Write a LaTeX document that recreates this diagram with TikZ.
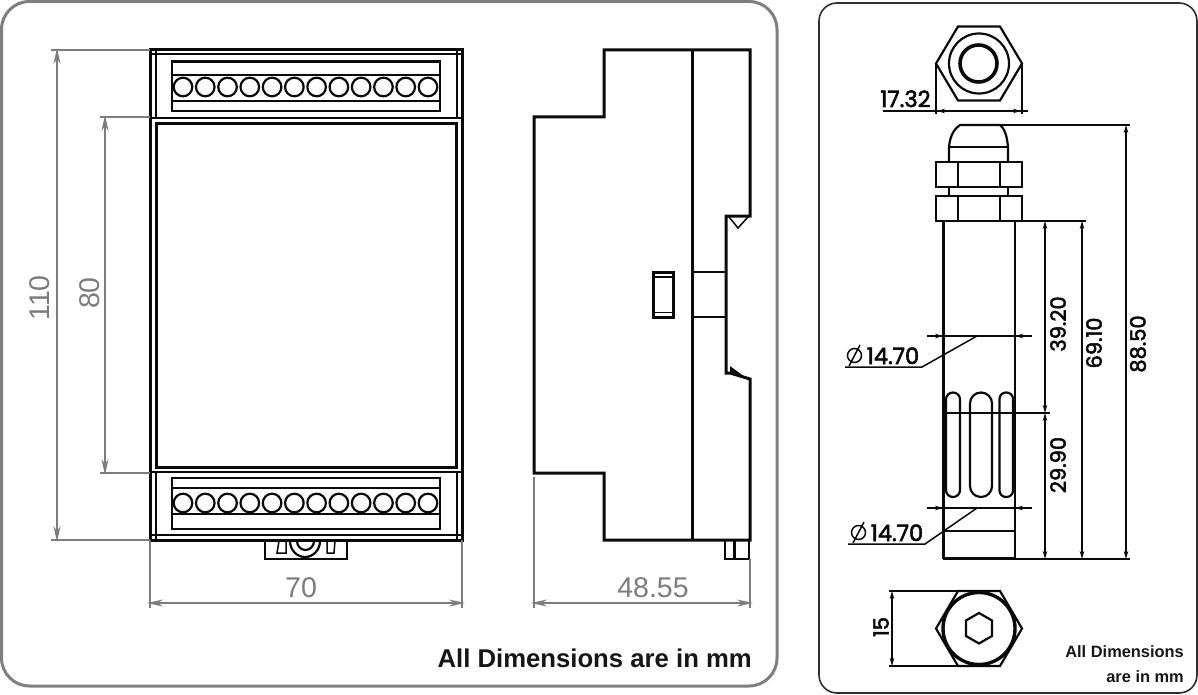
\documentclass[tikz,border=0pt]{standalone}
\usepackage{fontspec}
\setmainfont{Liberation Sans}
\newfontfamily\dimfont[RawFeature={embolden=2.6}]{Poppins}
\usetikzlibrary{arrows.meta}
\definecolor{dimgray}{HTML}{7C7C7C}
\definecolor{framegray}{HTML}{7F7F7F}
\definecolor{inkblack}{HTML}{0A0A0A}
\tikzset{
  panelL/.style={draw=framegray,line width=3pt,rounded corners=28pt},
  panelR/.style={draw=inkblack!85,line width=1.6pt,rounded corners=18pt},
  heavy/.style={draw=inkblack,line width=3pt,line join=miter},
  medium/.style={draw=inkblack,line width=2.2pt,line join=miter},
  fine/.style={draw=inkblack,line width=1.5pt},
  extG/.style={draw=dimgray,line width=1.7pt},
  dimG/.style={draw=dimgray,line width=1.7pt,{Stealth[length=16pt,width=7pt]}-{Stealth[length=16pt,width=7pt]}},
  dimK/.style={draw=inkblack,line width=1.5pt,{Stealth[length=8pt,width=4.5pt]}-{Stealth[length=8pt,width=4.5pt]}},
  labelG/.style={text=dimgray,font=\fontsize{28.5}{28.5}\selectfont,inner sep=0pt},
  labelK/.style={text=inkblack,font=\dimfont\fontsize{21}{21}\selectfont,inner sep=0pt},
  labelKw/.style={text=inkblack,font=\dimfont\fontsize{22.5}{22.5}\selectfont,inner sep=0pt},
  noteBig/.style={text=inkblack!95,font=\bfseries\fontsize{25.7}{25.7}\selectfont,inner sep=0pt},
  noteSmall/.style={text=inkblack!95,font=\bfseries\fontsize{16.4}{16.4}\selectfont,inner sep=0pt}
}
\begin{document}
\begin{tikzpicture}[x=1pt,y=-1pt]
\useasboundingbox (0,0) rectangle (1198,695);
\fill[white] (0,0) rectangle (1198,695);
% panels
\draw[panelL] (1.5,1.5) rectangle (777,686);
\draw[panelR] (819,3) rectangle (1197,693);

% --- front view ---
\draw[heavy] (150,50) rectangle (462,540);
\draw[medium] (150,54) -- (462,54);
\draw[medium] (150,118) -- (462,118);
\draw[medium] (150,472) -- (462,472);
\draw[medium] (150,535) -- (462,535);
\draw[medium] (156,50) -- (156,118);
\draw[medium] (457,50) -- (457,118);
\draw[medium] (156,472) -- (156,540);
\draw[medium] (457,472) -- (457,540);
\draw[heavy] (156,124) rectangle (456.5,467);
% terminal blocks
\draw[medium] (172,61.5) rectangle (440,111);
\draw[medium] (172,75) -- (440,75);
\draw[medium] (172,101) -- (440,101);
\draw[medium] (172,478) rectangle (440,529);
\draw[medium] (172,488) -- (440,488);
\draw[medium] (172,514) -- (440,514);
\foreach \i in {0,...,11}{
  \draw[medium] ({183+\i*22.27},87) circle (9.3pt);
  \draw[medium] ({183+\i*22.27},503) circle (9.3pt);
}
% clip
\draw[medium] (265,541) -- (265,559) -- (347,559) -- (347,541);
\draw[medium] (290,541) arc[start angle=180,end angle=0,x radius=15,y radius=16];
\draw[medium] (297,541) arc[start angle=180,end angle=0,x radius=8.5,y radius=9];
\draw[fine] (279,541) -- (277,553) -- (286,553) -- (286,541);
\draw[fine] (327,541) -- (327,553) -- (334,553) -- (335,541);

% --- side view ---
\draw[heavy] (534,117) -- (604,117) -- (604,50) -- (750,50) -- (750,216) -- (726,216) -- (726,373) -- (730,373) -- (750,379) -- (750,540) -- (604,540) -- (604,473) -- (534,473) -- cycle;
\draw[heavy] (692,50) -- (692,540);
\draw[medium] (692,272) -- (726,272);
\draw[medium] (692,317) -- (726,317);
\draw[heavy] (653,272.5) rectangle (673.5,317);
\draw[fine] (653,277) -- (673.5,277);
\draw[fine] (653,312.5) -- (673.5,312.5);
\draw[fine] (729,217) -- (738,228) -- (748,217);
\fill[inkblack] (730,366) -- (730,373) -- (745,377) -- cycle;
\draw[medium] (725,541) -- (725,559) -- (749,559) -- (749,541);
\draw[medium] (734.5,541) -- (734.5,559);

% --- grey dimensions ---
\draw[extG] (51,50) -- (150,50);
\draw[extG] (51,540) -- (150,540);
\draw[dimG] (57,48) -- (57,542);
\node[labelG,rotate=90] (d110) at (40,298) {110};
\draw[extG] (100,117) -- (150,117);
\draw[extG] (100,473) -- (150,473);
\draw[dimG] (105,115) -- (105,475);
\node[labelG,rotate=90] (d80) at (90,293) {80};
\draw[extG] (150,540) -- (150,608);
\draw[extG] (462,540) -- (462,608);
\draw[dimG] (147,603) -- (465,603);
\node[labelG] (d70) at (301,588) {70};
\draw[extG] (534,477) -- (534,608);
\draw[extG] (750,559) -- (750,608);
\draw[dimG] (531,603) -- (753,603);
\node[labelG] (d4855) at (653,588) {48.55};
\node[noteBig,anchor=east] (noteL) at (752,658) {All Dimensions are in mm};

% --- gland top view ---
\draw[medium] (936,63.5) -- (958,26.5) -- (1000,26.5) -- (1022,63.5) -- (1000,100.5) -- (958,100.5) -- cycle;
\draw[medium] (979,63.5) circle (30pt);
\draw[draw=inkblack,line width=3.6pt] (978.5,63.5) circle (18.5pt);
\draw[fine] (936,63.5) -- (936,114);
\draw[fine] (1022,63.5) -- (1022,114);
\draw[fine] (883,111) -- (1028,111);
\draw[dimK,{Stealth[length=8pt,width=4.5pt]}-] (937,111) -- (946,111);
\draw[dimK,-{Stealth[length=8pt,width=4.5pt]}] (1012,111) -- (1021,111);
\node[labelKw,anchor=base west] (d1732) at (880,107) {17.32};

% --- gland + tube ---
\draw[medium] (949,162) -- (949,147) .. controls (950,135) and (955,128) .. (960,125) -- (1000,125) .. controls (1004,128) and (1007,135) .. (1008,147) -- (1008,162);
\draw[medium] (949,147) -- (1008,147);
\draw[medium] (936,162) rectangle (1022,187);
\draw[medium] (958,162) -- (958,187);
\draw[medium] (1000,162) -- (1000,187);
\draw[medium] (949,187) -- (949,196);
\draw[medium] (1008,187) -- (1008,196);
\draw[medium] (936,196) rectangle (1022,221);
\draw[medium] (958,196) -- (958,221);
\draw[medium] (1000,196) -- (1000,221);
\draw[medium] (943.5,221) -- (943.5,558) -- (1015,558) -- (1015,221);
\draw[heavy] (943,558) -- (1015.5,558);
\draw[medium] (943.5,531) -- (1015,531);
% slots
\draw[medium,rounded corners=6.9pt] (946,392.5) rectangle (960,497);
\draw[medium,rounded corners=10.9pt] (970,392.5) rectangle (992,497);
\draw[medium,rounded corners=6.4pt] (999.5,392.5) rectangle (1013,497);
\draw[draw=inkblack,line width=3pt] (944.5,413) -- (944.5,470);
\draw[draw=inkblack,line width=3pt] (1014.5,413) -- (1014.5,470);

% --- black dimensions ---
\draw[fine] (1000,125) -- (1130,125);
\draw[fine] (1022,221) -- (1086,221);
\draw[fine] (1015,559) -- (1130,559);
\draw[fine] (943,413) -- (1050,413);
\draw[dimK] (1045,221) -- (1045,413);
\draw[dimK] (1045,413) -- (1045,559);
\draw[dimK] (1082,221) -- (1082,559);
\draw[dimK] (1126,125) -- (1126,559);
\node[labelK,rotate=90] (d3920) at (1058,324) {39.20};
\node[labelK,rotate=90] (d2990) at (1058,465) {29.90};
\node[labelK,rotate=90] (d6910) at (1094,343) {69.10};
\node[labelK,rotate=90] (d8850) at (1138,344) {88.50};

\draw[fine] (927,336) -- (1032,336);
\draw[dimK,{Stealth[length=8pt,width=4.5pt]}-] (943,336) -- (934,336);
\draw[dimK,{Stealth[length=8pt,width=4.5pt]}-] (1015,336) -- (1024,336);
\draw[fine] (977,336) -- (922,367) -- (845,367);
\draw[fine] (927,508) -- (1032,508);
\draw[dimK,{Stealth[length=8pt,width=4.5pt]}-] (943,508) -- (934,508);
\draw[dimK,{Stealth[length=8pt,width=4.5pt]}-] (1015,508) -- (1024,508);
\draw[fine] (977,508) -- (925,544) -- (848,544);
% phi labels
\draw[fine] (854.5,355.5) circle (7pt);
\draw[fine] (849,366) -- (860,345);
\node[labelKw,anchor=base west] (phiA) at (866.5,364) {14.70};
\draw[fine] (858.5,532.5) circle (7pt);
\draw[fine] (853,543) -- (864,522);
\node[labelKw,anchor=base west] (phiB) at (870.5,541) {14.70};

% --- gland bottom view ---
\draw[medium] (936,628.5) -- (958,591) -- (1000,591) -- (1022,628.5) -- (1000,666) -- (958,666) -- cycle;
\draw[draw=inkblack,line width=3.4pt] (979,628.5) circle (36pt);
\draw[medium] (979,613) -- (992,620.5) -- (992,636) -- (979,643.5) -- (966,636) -- (966,620.5) -- cycle;
\draw[fine] (889,591) -- (958,591);
\draw[fine] (889,666) -- (958,666);
\draw[dimK] (892,591) -- (892,666);
\node[labelK,rotate=90] (d15) at (881,627) {15};

\node[noteSmall,anchor=east] (noteR1) at (1184,652) {All Dimensions};
\node[noteSmall,anchor=east] (noteR2) at (1184,677) {are in mm};
\end{tikzpicture}
\end{document}
